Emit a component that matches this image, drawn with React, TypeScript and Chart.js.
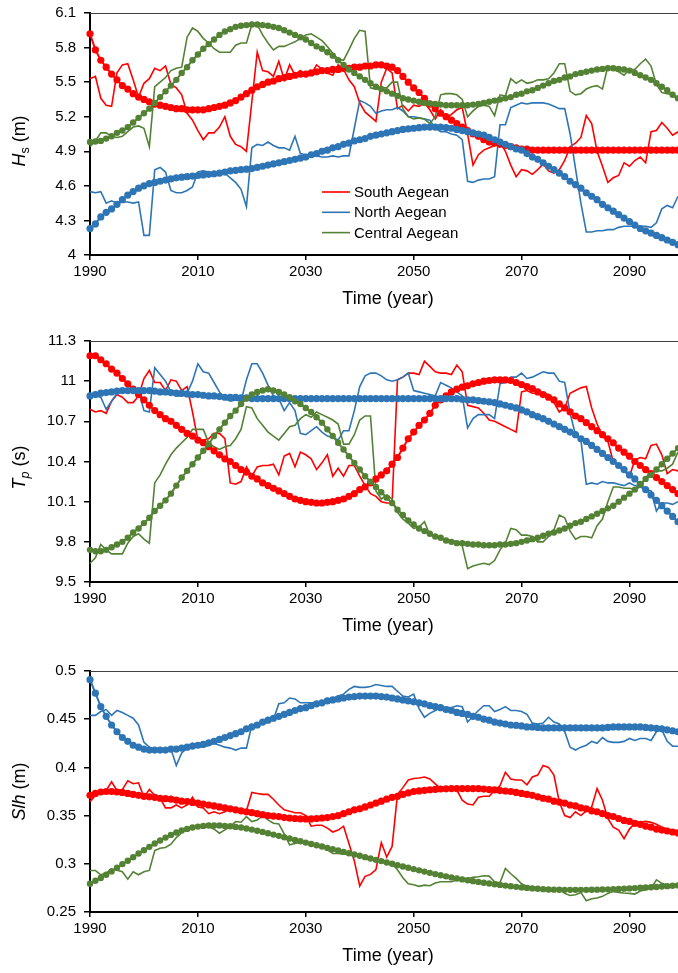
import React, { useEffect, useRef } from 'react';
import { Chart, registerables } from 'chart.js';
Chart.register(...registerables);

// ---------- categories / ticks ----------
const years: number[] = [];
for (let y = 1990; y <= 2099; y++) years.push(y);
const xTicks = [1990, 2010, 2030, 2050, 2070, 2090];
const hsTicks = [4, 4.3, 4.6, 4.9, 5.2, 5.5, 5.8, 6.1];
const tpTicks = [9.5, 9.8, 10.1, 10.4, 10.7, 11, 11.3];
const slhTicks = [0.25, 0.3, 0.35, 0.4, 0.45, 0.5];
const regions = ['South Aegean', 'North Aegean', 'Central Aegean'];
const colors = ['#FF0000', '#2E75B6', '#548235'];

// ---------- Hs (m) ----------
const hsSouth = [
  5.53, 5.55, 5.36, 5.30, 5.29, 5.58, 5.65, 5.66, 5.52, 5.37,
  5.49, 5.53, 5.62, 5.60, 5.64, 5.48, 5.45, 5.39, 5.23, 5.17,
  5.08, 5.00, 5.06, 5.06, 5.11, 5.20, 5.03, 4.96, 4.94, 4.90,
  5.33, 5.76, 5.60, 5.59, 5.55, 5.68, 5.52, 5.65, 5.56, 5.60,
  5.55, 5.57, 5.65, 5.61, 5.58, 5.56, 5.65, 5.61, 5.52, 5.46,
  5.32, 5.24, 5.20, 5.16, 5.50, 5.62, 5.58, 5.27, 5.30, 5.25,
  5.30, 5.29, 5.32, 5.26, 5.18, 5.26, 5.18, 5.22, 5.26, 5.28,
  5.05, 4.78, 4.87, 4.91, 4.93, 4.95, 4.98, 4.90, 4.78, 4.68,
  4.74, 4.73, 4.70, 4.74, 4.79, 4.73, 4.71, 4.74, 4.82, 4.94,
  4.97, 5.02, 5.21, 5.14, 4.90, 4.77, 4.63, 4.67, 4.69, 4.80,
  4.77, 4.82, 4.85, 4.80, 5.07, 5.08, 5.15, 5.10, 5.04, 5.07,
];
const hsNorth = [
  4.55, 4.54, 4.55, 4.45, 4.47, 4.45, 4.46, 4.46, 4.45, 4.46,
  4.17, 4.17, 4.74, 4.76, 4.72, 4.56, 4.54, 4.54, 4.56, 4.59,
  4.72, 4.73, 4.72, 4.71, 4.71, 4.71, 4.67, 4.63, 4.57, 4.42,
  4.93, 4.96, 4.95, 4.98, 4.95, 4.93, 4.93, 4.91, 5.03, 4.88,
  4.87, 4.86, 4.86, 4.85, 4.85, 4.86, 4.85, 4.86, 4.86, 5.10,
  5.34, 5.32, 5.29, 5.23, 5.25, 5.26, 5.26, 5.28, 5.25, 5.20,
  5.20, 5.19, 5.18, 5.17, 5.10, 5.07, 5.07, 5.05, 5.04, 5.00,
  4.64, 4.63, 4.65, 4.66, 4.66, 4.68, 5.13, 5.13, 5.28, 5.30,
  5.32, 5.31, 5.32, 5.32, 5.32, 5.31, 5.29, 5.27, 5.27, 5.05,
  4.75, 4.45, 4.20, 4.20, 4.21, 4.21, 4.22, 4.22, 4.24, 4.25,
  4.25, 4.25, 4.25, 4.25, 4.24, 4.28, 4.40, 4.43, 4.41, 4.51,
];
const hsCentral = [
  4.94, 4.99, 5.06, 5.06, 5.03, 5.02, 5.03, 5.07, 5.11, 5.12,
  5.10, 4.94, 5.46, 5.50, 5.54, 5.60, 5.62, 5.63, 5.89, 5.97,
  5.94, 5.88, 5.84, 5.79, 5.76, 5.76, 5.76, 5.82, 5.84, 5.84,
  6.00, 6.00, 5.91, 5.84, 5.78, 5.81, 5.81, 5.83, 5.85, 5.88,
  5.91, 5.92, 5.89, 5.86, 5.81, 5.75, 5.70, 5.69, 5.78, 5.88,
  5.95, 5.94, 5.45, 5.44, 5.45, 5.45, 5.50, 5.50, 5.27, 5.20,
  5.18, 5.19, 5.18, 5.14, 5.20, 5.39, 5.40, 5.40, 5.39, 5.35,
  5.20, 5.25, 5.29, 5.30, 5.29, 5.21, 5.39, 5.38, 5.53, 5.49,
  5.52, 5.49, 5.50, 5.52, 5.52, 5.53, 5.58, 5.66, 5.66, 5.42,
  5.39, 5.40, 5.44, 5.46, 5.47, 5.44, 5.64, 5.61, 5.59, 5.56,
  5.61, 5.61, 5.66, 5.70, 5.64, 5.48, 5.41, 5.40, 5.39, 5.35,
];
const hsSouthTrend = [
  5.92, 5.78, 5.69, 5.63, 5.57, 5.52, 5.47, 5.44, 5.40, 5.37,
  5.35, 5.33, 5.31, 5.30, 5.29, 5.28, 5.27, 5.27, 5.26, 5.26,
  5.26, 5.26, 5.27, 5.28, 5.29, 5.30, 5.32, 5.34, 5.37, 5.40,
  5.43, 5.46, 5.48, 5.50, 5.51, 5.53, 5.54, 5.55, 5.56, 5.57,
  5.57, 5.58, 5.59, 5.60, 5.60, 5.61, 5.61, 5.62, 5.62, 5.63,
  5.63, 5.64, 5.64, 5.65, 5.65, 5.64, 5.63, 5.60, 5.55, 5.50,
  5.45, 5.41, 5.36, 5.31, 5.27, 5.23, 5.20, 5.17, 5.14, 5.11,
  5.08, 5.05, 5.03, 5.00, 4.98, 4.97, 4.96, 4.95, 4.94, 4.93,
  4.92, 4.92, 4.91, 4.91, 4.91, 4.91, 4.91, 4.91, 4.91, 4.91,
  4.91, 4.91, 4.91, 4.91, 4.91, 4.91, 4.91, 4.91, 4.91, 4.91,
  4.91, 4.91, 4.91, 4.91, 4.91, 4.91, 4.91, 4.91, 4.91, 4.91,
];
const hsNorthTrend = [
  4.23, 4.27, 4.33, 4.37, 4.40, 4.44, 4.48, 4.52, 4.55, 4.58,
  4.60, 4.62, 4.63, 4.64, 4.65, 4.66, 4.67, 4.675, 4.68, 4.685,
  4.69, 4.695, 4.70, 4.705, 4.71, 4.72, 4.73, 4.735, 4.74, 4.745,
  4.75, 4.76, 4.77, 4.78, 4.79, 4.80, 4.81, 4.82, 4.83, 4.84,
  4.85, 4.87, 4.88, 4.90, 4.91, 4.93, 4.94, 4.96, 4.97, 4.99,
  5.00, 5.01, 5.03, 5.04, 5.05, 5.06, 5.07, 5.08, 5.09, 5.095,
  5.10, 5.105, 5.11, 5.11, 5.11, 5.11, 5.105, 5.10, 5.09, 5.08,
  5.07, 5.06, 5.05, 5.04, 5.02, 5.00, 4.98, 4.96, 4.94, 4.92,
  4.91, 4.88, 4.85, 4.83, 4.80, 4.77, 4.74, 4.71, 4.68, 4.64,
  4.61, 4.58, 4.54, 4.51, 4.48, 4.44, 4.41, 4.38, 4.35, 4.32,
  4.29, 4.26, 4.23, 4.21, 4.19, 4.17, 4.15, 4.13, 4.11, 4.09,
];
const hsCentralTrend = [
  4.98, 4.985, 4.99, 5.01, 5.03, 5.06, 5.08, 5.11, 5.15, 5.19,
  5.23, 5.27, 5.32, 5.37, 5.42, 5.47, 5.52, 5.58, 5.63, 5.69,
  5.74, 5.79, 5.83, 5.87, 5.91, 5.94, 5.96, 5.98, 5.99, 5.995,
  6.00, 6.00, 5.995, 5.99, 5.98, 5.97, 5.95, 5.93, 5.91, 5.89,
  5.87, 5.84, 5.81, 5.79, 5.76, 5.73, 5.69, 5.65, 5.61, 5.58,
  5.55, 5.52, 5.49, 5.46, 5.44, 5.42, 5.40, 5.38, 5.36, 5.35,
  5.34, 5.33, 5.32, 5.315, 5.31, 5.305, 5.30, 5.30, 5.30, 5.30,
  5.30, 5.305, 5.31, 5.32, 5.33, 5.34, 5.35, 5.36, 5.37, 5.39,
  5.40, 5.42, 5.43, 5.45, 5.47, 5.49, 5.51, 5.52, 5.54, 5.55,
  5.57, 5.58, 5.59, 5.60, 5.61, 5.615, 5.62, 5.62, 5.615, 5.61,
  5.60, 5.58, 5.56, 5.54, 5.52, 5.49, 5.46, 5.43, 5.39, 5.36,
];

// ---------- Tp (s) ----------
const tpSouth = [
  10.79, 10.77, 10.78, 10.76, 10.85, 10.90, 10.88, 10.84, 10.84, 10.89,
  11.02, 11.08, 10.99, 10.99, 10.93, 11.01, 11.00, 10.93, 10.96, 10.77,
  10.56, 10.56, 10.57, 10.61, 10.61, 10.57, 10.24, 10.23, 10.25, 10.36,
  10.29, 10.36, 10.37, 10.37, 10.38, 10.30, 10.44, 10.46, 10.36, 10.47,
  10.45, 10.42, 10.34, 10.39, 10.45, 10.29, 10.35, 10.29, 10.37, 10.37,
  10.29, 10.22, 10.16, 10.14, 10.10, 10.09, 10.09, 11.01, 11.03, 11.06,
  11.06, 11.05, 11.15, 11.11, 11.07, 11.06, 11.06, 11.05, 11.12, 11.07,
  10.82, 10.81, 10.80, 10.76, 10.71, 10.70, 10.68, 10.66, 10.64, 10.62,
  10.92, 10.93, 10.91, 10.91, 10.91, 10.90, 10.84, 10.77, 10.80, 10.91,
  10.93, 10.95, 10.96, 10.80, 10.68, 10.59, 10.55, 10.40, 10.37, 10.33,
  10.29, 10.41, 10.43, 10.42, 10.52, 10.53, 10.45, 10.31, 10.34, 10.33,
];
const tpNorth = [
  10.90, 10.89, 10.88, 10.79, 10.85, 10.91, 10.94, 10.94, 10.94, 10.93,
  10.78, 10.77, 11.10, 11.05, 11.00, 10.92, 10.89, 10.89, 10.91, 11.00,
  11.13, 11.07, 11.06, 10.99, 10.92, 10.87, 10.85, 10.86, 10.85, 11.01,
  11.13, 11.13, 11.06, 10.97, 10.89, 10.87, 10.78, 10.84, 10.78, 10.61,
  10.60, 10.63, 10.66, 10.62, 10.59, 10.58, 10.56, 10.63, 10.63, 10.78,
  10.96, 11.04, 11.06, 11.06, 11.04, 11.01, 11.00, 11.01, 11.03, 11.06,
  10.93, 10.92, 10.91, 10.90, 10.89, 10.99, 10.97, 10.95, 10.92, 10.89,
  10.65, 10.72, 10.75, 10.75, 10.75, 10.72, 10.98, 10.99, 11.03, 11.03,
  11.06, 11.02, 11.03, 11.05, 11.07, 11.06, 11.06, 11.00, 10.99, 10.76,
  10.60, 10.56, 10.23, 10.24, 10.23, 10.25, 10.24, 10.24, 10.23, 10.22,
  10.24, 10.22, 10.21, 10.19, 10.18, 10.03, 10.09, 10.09, 10.08, 10.10,
];
const tpCentral = [
  9.64, 9.68, 9.78, 9.74, 9.71, 9.71, 9.71, 9.79, 9.84, 9.86,
  9.82, 9.79, 10.24, 10.30, 10.38, 10.45, 10.50, 10.54, 10.58, 10.64,
  10.64, 10.64, 10.54, 10.51, 10.49, 10.51, 10.52, 10.57, 10.64, 10.81,
  10.80, 10.72, 10.67, 10.62, 10.59, 10.56, 10.61, 10.66, 10.67, 10.72,
  10.75, 10.73, 10.77, 10.75, 10.73, 10.71, 10.68, 10.53, 10.53, 10.60,
  10.71, 10.74, 10.74, 10.18, 10.12, 10.15, 10.12, 10.02, 9.97, 9.94,
  9.90, 9.91, 9.95, 9.85, 9.84, 9.83, 9.82, 9.81, 9.80, 9.77,
  9.60, 9.62, 9.63, 9.64, 9.63, 9.66, 9.74, 9.79, 9.90, 9.89,
  9.85, 9.85, 9.84, 9.80, 9.80, 9.84, 9.89, 10.00, 9.98, 9.88,
  9.82, 9.84, 9.84, 9.83, 9.92, 9.97, 10.10, 10.21, 10.21, 10.20,
  10.20, 10.19, 10.21, 10.28, 10.32, 10.33, 10.33, 10.35, 10.38, 10.47,
];
const tpSouthTrend = [
  11.19, 11.19, 11.16, 11.13, 11.09, 11.06, 11.02, 10.98, 10.94, 10.90,
  10.86, 10.82, 10.78, 10.75, 10.72, 10.70, 10.67, 10.64, 10.61, 10.59,
  10.56, 10.54, 10.51, 10.48, 10.45, 10.42, 10.40, 10.37, 10.34, 10.32,
  10.29, 10.27, 10.24, 10.22, 10.20, 10.18, 10.16, 10.14, 10.12, 10.11,
  10.10, 10.095, 10.09, 10.09, 10.095, 10.10, 10.11, 10.12, 10.14, 10.16,
  10.19, 10.21, 10.24, 10.27, 10.30, 10.33, 10.38, 10.43, 10.50, 10.57,
  10.62, 10.67, 10.71, 10.76, 10.82, 10.86, 10.89, 10.92, 10.94, 10.955,
  10.965, 10.98, 10.99, 11.00, 11.005, 11.01, 11.01, 11.01, 11.005, 10.99,
  10.975, 10.96, 10.945, 10.92, 10.90, 10.88, 10.86, 10.83, 10.80, 10.77,
  10.74, 10.72, 10.69, 10.66, 10.63, 10.60, 10.57, 10.54, 10.50, 10.47,
  10.44, 10.40, 10.37, 10.34, 10.31, 10.28, 10.25, 10.22, 10.19, 10.16,
];
const tpNorthTrend = [
  10.89, 10.90, 10.91, 10.915, 10.92, 10.925, 10.93, 10.93, 10.93, 10.93,
  10.93, 10.93, 10.925, 10.92, 10.92, 10.915, 10.91, 10.91, 10.905, 10.90,
  10.90, 10.895, 10.89, 10.89, 10.885, 10.88, 10.88, 10.88, 10.875, 10.875,
  10.87, 10.87, 10.87, 10.87, 10.87, 10.87, 10.87, 10.87, 10.87, 10.87,
  10.87, 10.87, 10.87, 10.87, 10.87, 10.87, 10.87, 10.87, 10.87, 10.87,
  10.87, 10.87, 10.87, 10.87, 10.87, 10.87, 10.87, 10.87, 10.87, 10.87,
  10.87, 10.87, 10.87, 10.87, 10.87, 10.87, 10.87, 10.87, 10.87, 10.865,
  10.86, 10.86, 10.855, 10.85, 10.845, 10.84, 10.83, 10.82, 10.81, 10.80,
  10.785, 10.77, 10.75, 10.735, 10.72, 10.70, 10.68, 10.66, 10.64, 10.62,
  10.60, 10.57, 10.55, 10.52, 10.49, 10.46, 10.43, 10.40, 10.37, 10.34,
  10.30, 10.27, 10.23, 10.19, 10.15, 10.11, 10.07, 10.03, 9.99, 9.95,
];
const tpCentralTrend = [
  9.74, 9.73, 9.73, 9.74, 9.76, 9.78, 9.80, 9.83, 9.87, 9.90,
  9.94, 9.98, 10.03, 10.07, 10.11, 10.16, 10.22, 10.28, 10.33, 10.38,
  10.43, 10.48, 10.53, 10.59, 10.64, 10.69, 10.74, 10.78, 10.83, 10.87,
  10.90, 10.92, 10.93, 10.94, 10.93, 10.92, 10.90, 10.88, 10.85, 10.83,
  10.80, 10.77, 10.73, 10.69, 10.64, 10.59, 10.54, 10.49, 10.44, 10.39,
  10.34, 10.29, 10.25, 10.21, 10.17, 10.13, 10.09, 10.04, 10.00, 9.96,
  9.93, 9.90, 9.88, 9.86, 9.84, 9.83, 9.81, 9.80, 9.79, 9.79,
  9.785, 9.78, 9.78, 9.775, 9.775, 9.775, 9.78, 9.78, 9.785, 9.79,
  9.80, 9.81, 9.82, 9.83, 9.845, 9.86, 9.87, 9.885, 9.90, 9.92,
  9.94, 9.95, 9.97, 9.99, 10.01, 10.03, 10.05, 10.07, 10.10, 10.13,
  10.16, 10.19, 10.23, 10.27, 10.30, 10.34, 10.38, 10.42, 10.46, 10.50,
];

// ---------- Slh (m) ----------
const slhSouth = [
  0.3645, 0.371, 0.375, 0.376, 0.385, 0.376, 0.377, 0.386, 0.383, 0.384,
  0.369, 0.377, 0.371, 0.368, 0.358, 0.358, 0.361, 0.358, 0.361, 0.369,
  0.359, 0.358, 0.352, 0.354, 0.352, 0.354, 0.357, 0.354, 0.357, 0.355,
  0.374, 0.373, 0.372, 0.372, 0.367, 0.361, 0.356, 0.3545, 0.353, 0.353,
  0.350, 0.339, 0.340, 0.340, 0.337, 0.333, 0.335, 0.339, 0.321, 0.303,
  0.277, 0.287, 0.289, 0.294, 0.322, 0.307, 0.318, 0.372, 0.379, 0.387,
  0.3885, 0.389, 0.390, 0.388, 0.383, 0.378, 0.378, 0.378, 0.3765, 0.366,
  0.362, 0.361, 0.369, 0.370, 0.370, 0.376, 0.381, 0.395, 0.388, 0.387,
  0.387, 0.382, 0.390, 0.392, 0.402, 0.400, 0.392, 0.364, 0.350, 0.348,
  0.354, 0.350, 0.355, 0.359, 0.378, 0.366, 0.347, 0.338, 0.335, 0.326,
  0.336, 0.342, 0.343, 0.344, 0.343, 0.341, 0.338, 0.336, 0.335, 0.334,
];
const slhNorth = [
  0.454, 0.454, 0.458, 0.460, 0.454, 0.459, 0.457, 0.454, 0.451, 0.444,
  0.426, 0.421, 0.419, 0.419, 0.419, 0.419, 0.402, 0.415, 0.420, 0.425,
  0.422, 0.421, 0.423, 0.425, 0.423, 0.421, 0.420, 0.418, 0.420, 0.420,
  0.444, 0.444, 0.445, 0.447, 0.450, 0.466, 0.467, 0.472, 0.471, 0.467,
  0.467, 0.467, 0.467, 0.466, 0.467, 0.471, 0.474, 0.476, 0.481, 0.484,
  0.483, 0.483, 0.484, 0.486, 0.485, 0.484, 0.484, 0.479, 0.474, 0.473,
  0.476, 0.461, 0.452, 0.456, 0.459, 0.462, 0.462, 0.462, 0.464, 0.463,
  0.447, 0.453, 0.459, 0.464, 0.464, 0.458, 0.460, 0.463, 0.459, 0.459,
  0.458, 0.455, 0.446, 0.445, 0.446, 0.452, 0.447, 0.445, 0.437, 0.421,
  0.418, 0.421, 0.423, 0.427, 0.425, 0.431, 0.427, 0.426, 0.426, 0.427,
  0.430, 0.428, 0.430, 0.430, 0.428, 0.437, 0.439, 0.427, 0.422, 0.422,
];
const slhCentral = [
  0.2931, 0.2931, 0.2886, 0.2903, 0.2948, 0.2934, 0.2917, 0.2841, 0.2917, 0.2886,
  0.2917, 0.2931, 0.3138, 0.3162, 0.3169, 0.3203, 0.3272, 0.3324, 0.3359, 0.3383,
  0.3393, 0.3393, 0.3386, 0.3359, 0.3317, 0.3352, 0.3386, 0.3438, 0.3431, 0.3490,
  0.3438, 0.3455, 0.3497, 0.3455, 0.3421, 0.3414, 0.3310, 0.3197, 0.3210, 0.3224,
  0.3238, 0.3203, 0.3197, 0.3179, 0.3145, 0.3107, 0.3107, 0.3100, 0.3100, 0.3090,
  0.3072, 0.3055, 0.3038, 0.3038, 0.3021, 0.3003, 0.2999, 0.2938, 0.2855, 0.2793,
  0.2783, 0.2766, 0.2779, 0.2772, 0.2800, 0.2814, 0.2814, 0.2814, 0.2831, 0.2828,
  0.2845, 0.2859, 0.2866, 0.2876, 0.2872, 0.2814, 0.2803, 0.2952, 0.2897, 0.2848,
  0.2793, 0.2766, 0.2762, 0.2748, 0.2731, 0.2714, 0.2731, 0.2738, 0.2693, 0.2672,
  0.2679, 0.2703, 0.2617, 0.2638, 0.2645, 0.2662, 0.2693, 0.2714, 0.2703, 0.2697,
  0.2693, 0.2686, 0.2717, 0.2731, 0.2745, 0.2834, 0.2797, 0.2780, 0.2766, 0.2790,
];
const slhSouthTrend = [
  0.371, 0.373, 0.3745, 0.375, 0.375, 0.3745, 0.374, 0.373, 0.372, 0.371,
  0.370, 0.3695, 0.369, 0.368, 0.3676, 0.367, 0.366, 0.365, 0.3645, 0.3637,
  0.363, 0.362, 0.361, 0.360, 0.359, 0.358, 0.357, 0.356, 0.355, 0.354,
  0.353, 0.352, 0.351, 0.350, 0.3495, 0.349, 0.348, 0.3475, 0.347, 0.3467,
  0.3466, 0.3466, 0.347, 0.3475, 0.348, 0.349, 0.350, 0.352, 0.354, 0.356,
  0.357, 0.359, 0.361, 0.363, 0.365, 0.367, 0.369, 0.370, 0.372, 0.3735,
  0.375, 0.3756, 0.3762, 0.3768, 0.3772, 0.3776, 0.3778, 0.378, 0.378, 0.378,
  0.378, 0.378, 0.378, 0.3775, 0.377, 0.3766, 0.376, 0.3755, 0.375, 0.374,
  0.373, 0.372, 0.371, 0.3695, 0.368, 0.367, 0.365, 0.364, 0.363, 0.361,
  0.360, 0.358, 0.357, 0.355, 0.354, 0.352, 0.350, 0.349, 0.347, 0.345,
  0.344, 0.342, 0.341, 0.339, 0.338, 0.336, 0.335, 0.334, 0.333, 0.332,
];
const slhNorthTrend = [
  0.491, 0.477, 0.463, 0.453, 0.444, 0.437, 0.431, 0.427, 0.423, 0.421,
  0.419, 0.418, 0.418, 0.418, 0.418, 0.419, 0.419, 0.420, 0.421, 0.422,
  0.423, 0.424, 0.4255, 0.427, 0.429, 0.431, 0.433, 0.435, 0.437, 0.440,
  0.442, 0.444, 0.447, 0.449, 0.451, 0.453, 0.455, 0.457, 0.459, 0.461,
  0.462, 0.464, 0.466, 0.467, 0.469, 0.470, 0.471, 0.472, 0.473, 0.4735,
  0.474, 0.474, 0.474, 0.474, 0.4735, 0.473, 0.472, 0.471, 0.470, 0.469,
  0.468, 0.467, 0.466, 0.464, 0.463, 0.462, 0.460, 0.459, 0.457, 0.456,
  0.455, 0.453, 0.452, 0.450, 0.449, 0.447, 0.446, 0.445, 0.444, 0.4435,
  0.443, 0.442, 0.442, 0.4415, 0.441, 0.441, 0.441, 0.441, 0.441, 0.441,
  0.441, 0.441, 0.441, 0.441, 0.441, 0.441, 0.4415, 0.442, 0.442, 0.442,
  0.442, 0.442, 0.442, 0.4415, 0.441, 0.4405, 0.440, 0.439, 0.438, 0.437,
];
const slhCentralTrend = [
  0.2793, 0.2824, 0.2852, 0.2886, 0.2921, 0.2959, 0.2997, 0.3031, 0.3069, 0.3107,
  0.3141, 0.3176, 0.3210, 0.3241, 0.3272, 0.3300, 0.3324, 0.3345, 0.3362, 0.3376,
  0.3386, 0.3393, 0.3397, 0.3397, 0.3397, 0.3393, 0.3390, 0.3383, 0.3376, 0.3366,
  0.3355, 0.3343, 0.3331, 0.3317, 0.3303, 0.3290, 0.3276, 0.3262, 0.3248, 0.3234,
  0.3220, 0.3206, 0.3193, 0.3179, 0.3165, 0.3152, 0.3138, 0.3124, 0.3110, 0.3096,
  0.3083, 0.3069, 0.3055, 0.3041, 0.3028, 0.3014, 0.3000, 0.2986, 0.2972, 0.2959,
  0.2945, 0.2932, 0.2919, 0.2906, 0.2893, 0.2881, 0.2870, 0.2859, 0.2848, 0.2838,
  0.2829, 0.2820, 0.2812, 0.2804, 0.2796, 0.2788, 0.2781, 0.2774, 0.2767, 0.2761,
  0.2755, 0.2750, 0.2745, 0.2741, 0.2737, 0.2734, 0.2732, 0.2731, 0.2730, 0.2730,
  0.2730, 0.2730, 0.2730, 0.2731, 0.2732, 0.2733, 0.2735, 0.2737, 0.2739, 0.2742,
  0.2745, 0.2748, 0.2751, 0.2754, 0.2757, 0.2760, 0.2764, 0.2768, 0.2772, 0.2776,
];

const FONT = '"Liberation Sans", Arial, sans-serif';

type Part = { t: string; italic?: boolean; sub?: boolean };

interface PanelDef {
  top: number;
  height: number;
  padTop: number;
  axisH: number;
  ticks: number[];
  raw: number[][];
  trend: number[][];
  title: Part[];
  titleCenterOffset: number;
  legend: boolean;
}

const panels: PanelDef[] = [
  {
    top: 0, height: 330, padTop: 13, axisH: 75, ticks: hsTicks,
    raw: [hsSouth, hsNorth, hsCentral], trend: [hsSouthTrend, hsNorthTrend, hsCentralTrend],
    title: [{ t: 'H', italic: true }, { t: 's', sub: true }, { t: ' (m)' }], titleCenterOffset: 7, legend: true,
  },
  {
    top: 330, height: 330, padTop: 11, axisH: 78, ticks: tpTicks,
    raw: [tpSouth, tpNorth, tpCentral], trend: [tpSouthTrend, tpNorthTrend, tpCentralTrend],
    title: [{ t: 'T', italic: true }, { t: 'p', sub: true, italic: true }, { t: ' (s)' }], titleCenterOffset: 6, legend: false,
  },
  {
    top: 660, height: 313, padTop: 11, axisH: 61, ticks: slhTicks,
    raw: [slhSouth, slhNorth, slhCentral], trend: [slhSouthTrend, slhNorthTrend, slhCentralTrend],
    title: [{ t: 'Slh', italic: true }, { t: ' (m)' }], titleCenterOffset: 0, legend: false,
  },
];

const fmt = (v: number) => String(Math.round(v * 1000) / 1000);

function Panel({ def }: { def: PanelDef }) {
  const ref = useRef<HTMLCanvasElement | null>(null);
  useEffect(() => {
    if (!ref.current) return;
    const datasets: any[] = [];
    def.raw.forEach((arr, i) => {
      datasets.push({
        label: regions[i],
        data: years.map((x, k) => ({ x, y: arr[k] })),
        borderColor: colors[i],
        backgroundColor: colors[i],
        borderWidth: 1.6,
        pointRadius: 0,
        tension: 0,
        order: 5 - i,
        clip: false,
      });
    });
    const trendOrder = [2, 1, 0];
    def.trend.forEach((arr, i) => {
      datasets.push({
        label: regions[i] + ' trend',
        data: years.map((x, k) => ({ x, y: arr[k] })),
        borderColor: colors[i],
        backgroundColor: colors[i],
        pointBackgroundColor: colors[i],
        pointBorderWidth: 0,
        borderWidth: 2,
        pointRadius: i === 2 ? 3.2 : 3.6,
        tension: 0,
        order: trendOrder[i],
        clip: false,
      });
    });

    const decor = {
      id: 'decor',
      afterDraw(chart: any) {
        const { ctx, chartArea } = chart;
        const { left, right, top, bottom } = chartArea;
        ctx.save();
        // top border
        ctx.strokeStyle = '#404040';
        ctx.lineWidth = 1.2;
        ctx.beginPath();
        ctx.moveTo(left, top + 0.5);
        ctx.lineTo(right, top + 0.5);
        ctx.stroke();

        // x title
        ctx.fillStyle = '#000';
        ctx.font = `18px ${FONT}`;
        ctx.textAlign = 'center';
        ctx.textBaseline = 'middle';
        ctx.fillText('Time (year)', (left + right) / 2 + 4, bottom + 44);

        // y title (rotated, mixed styles)
        const big = 18, small = 12.5;
        const fontOf = (p: Part) => `${p.italic ? 'italic ' : ''}${p.sub ? small : big}px ${FONT}`;
        let total = 0;
        const widths = def.title.map((p) => {
          ctx.font = fontOf(p);
          const w = ctx.measureText(p.t).width;
          total += w;
          return w;
        });
        const cy = (top + bottom) / 2 + def.titleCenterOffset;
        ctx.translate(25, cy);
        ctx.rotate(-Math.PI / 2);
        ctx.textAlign = 'left';
        ctx.textBaseline = 'alphabetic';
        let x = -total / 2;
        def.title.forEach((p, i) => {
          ctx.font = fontOf(p);
          ctx.fillText(p.t, x, p.sub ? 4 : 0);
          x += widths[i];
        });
        ctx.restore();

        if (def.legend) {
          ctx.save();
          ctx.font = `15px ${FONT}`;
          ctx.textBaseline = 'middle';
          ctx.textAlign = 'left';
          regions.forEach((r, i) => {
            const ly = top + 179 + i * 20.3;
            const lx = left + 232;
            ctx.strokeStyle = colors[i];
            ctx.lineWidth = 1.6;
            ctx.beginPath();
            ctx.moveTo(lx, ly);
            ctx.lineTo(lx + 28, ly);
            ctx.stroke();
            ctx.fillStyle = '#000';
            ctx.fillText(r, lx + 32, ly + 1);
          });
          ctx.restore();
        }
      },
    };

    const yMin = def.ticks[0];
    const yMax = def.ticks[def.ticks.length - 1];
    const chart = new Chart(ref.current, {
      type: 'line',
      data: { datasets },
      options: {
        animation: false,
        responsive: false,
        maintainAspectRatio: false,
        devicePixelRatio: 1,
        layout: { autoPadding: false, padding: { top: def.padTop, left: 0, right: 0, bottom: 0 } },
        plugins: { legend: { display: false }, tooltip: { enabled: false } },
        scales: {
          x: {
            type: 'linear',
            min: 1990,
            max: 2099,
            afterBuildTicks: (s: any) => { s.ticks = xTicks.map((v) => ({ value: v })); },
            afterFit: (s: any) => {
              s.height = def.axisH;
              s.paddingLeft = 0;
              s.paddingRight = 0;
            },
            ticks: {
              callback: (v: any) => String(v),
              color: '#000',
              font: { family: FONT, size: 15 },
              padding: 3,
              maxRotation: 0,
              autoSkip: false,
            },
            grid: { drawOnChartArea: false, drawTicks: true, tickLength: 5, color: '#000', lineWidth: 1.5 },
            border: { display: true, color: '#000', width: 2 },
          },
          y: {
            type: 'linear',
            min: yMin,
            max: yMax,
            afterBuildTicks: (s: any) => { s.ticks = def.ticks.map((v) => ({ value: v })); },
            afterFit: (s: any) => {
              s.width = 90;
              s.paddingTop = 0;
              s.paddingBottom = 0;
            },
            ticks: {
              callback: (v: any) => fmt(Number(v)),
              color: '#000',
              font: { family: FONT, size: 15 },
              padding: 8,
              autoSkip: false,
            },
            grid: { drawOnChartArea: false, drawTicks: true, tickLength: 6, color: '#000', lineWidth: 1.5 },
            border: { display: true, color: '#000', width: 2 },
          },
        },
      } as any,
      plugins: [decor],
    });
    return () => chart.destroy();
  }, [def]);
  return (
    <canvas
      ref={ref}
      width={678}
      height={def.height}
      style={{ position: 'absolute', left: 0, top: def.top, width: 678, height: def.height, display: 'block' }}
    />
  );
}

export default function App() {
  useEffect(() => {
    document.body.style.margin = '0';
    document.body.style.overflow = 'hidden';
  }, []);
  return (
    <div style={{ position: 'absolute', left: 0, top: 0, width: 678, height: 973, overflow: 'hidden', background: '#fff' }}>
      {panels.map((p, i) => (
        <Panel key={i} def={p} />
      ))}
    </div>
  );
}
